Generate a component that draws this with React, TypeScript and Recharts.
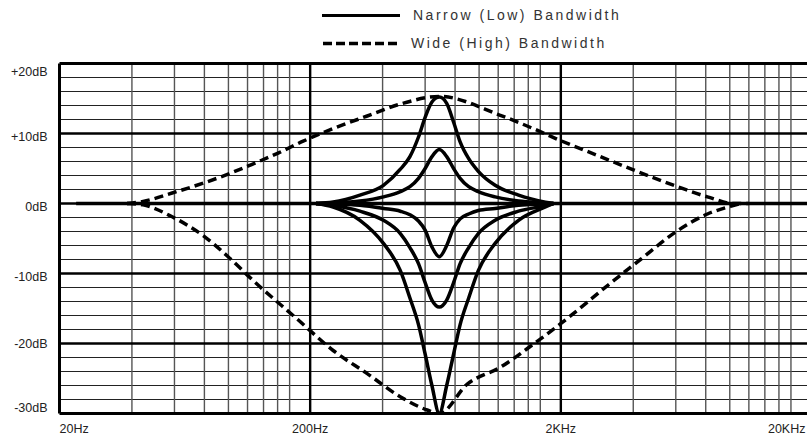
import React from 'react';
import { LineChart, Line, XAxis, YAxis, ReferenceLine } from 'recharts';

// ---- axis / grid values ----
const decadeFreqs = [20, 200, 2000, 20000];
const decadeLabels = ['20Hz', '200Hz', '2KHz', '20KHz'];
const minorFreqs = [
  38.9, 57.5, 75.7, 94.4, 112.5, 130.3, 148.3, 165.6,
  389, 575, 757, 944, 1125, 1303, 1483, 1656,
  3890, 5750, 7570, 9440, 11250, 13030, 14830, 16560,
];
const majorDb = [20, 10, 0, -10, -20, -30];
const dbLabels = ['+20dB', '+10dB', '0dB', '-10dB', '-20dB', '-30dB'];
const minorDb = [18, 16, 14, 12, 8, 6, 4, 2, -2, -4, -6, -8, -12, -14, -16, -18, -22, -24, -26, -28];

// ---- series ----
const flatFreqs = [23.3, 20000];
const flatDb = [0, 0];

const narrowFreqs = [211, 247, 316, 392, 458, 500, 541, 575, 612, 655, 701, 747, 793, 858, 937, 1094, 1356, 1736, 1870];
const narrowBoost15 = [0, 0.2, 1.2, 2.6, 4.9, 6.7, 9.5, 12.3, 14.5, 15.2, 14.3, 11.6, 8.8, 6.4, 4.6, 2.6, 1.2, 0.2, 0];
const narrowBoost8 = [0, 0.08, 0.35, 0.94, 1.7, 2.4, 3.6, 5.0, 6.7, 7.7, 6.7, 5.0, 3.6, 2.4, 1.7, 0.94, 0.35, 0.08, 0];
const narrowCut8 = [0, -0.05, -0.25, -0.7, -1.1, -1.6, -2.5, -3.8, -6.2, -7.6, -6.0, -3.5, -2.2, -1.5, -1.0, -0.7, -0.25, -0.05, 0];
const narrowCut15 = [0, -0.3, -1.1, -2.4, -4.3, -6.3, -8.6, -11.3, -13.8, -14.8, -13.8, -11.3, -8.6, -6.3, -4.3, -2.4, -1.1, -0.3, 0];
const narrowCut30 = [0, -0.5, -2.4, -5.7, -9.6, -13.5, -17.3, -21.5, -26, -30, -26, -21.5, -17.3, -13.5, -9.6, -5.7, -2.4, -0.5, 0];

const wideBoostFreqs = [37.2, 43.1, 56.3, 76.2, 94.1, 117.4, 149, 187.5, 247, 337.8, 457.4, 655, 1147, 1553, 1991, 2876, 3896, 5838, 7688, 9764, 11210];
const wideBoost15 = [0, 0.3, 1.5, 3.0, 4.2, 5.6, 7.2, 8.9, 10.7, 12.5, 14.2, 15.3, 12.6, 10.7, 9.0, 6.7, 4.8, 2.4, 0.95, 0, 0];

const wideCutFreqs = [37.2, 43.1, 56.3, 76.2, 94.1, 118.4, 177.5, 247, 337.8, 457.4, 586, 655, 847, 1147, 1553, 1991, 3152, 4155, 5838, 7688, 9500, 10400];
const wideCut30 = [0, -0.2, -1.9, -4.8, -7.6, -11, -16.5, -21, -24.3, -27.6, -29.5, -30, -25.8, -23.4, -20.1, -17.2, -11.4, -8.0, -3.9, -1.5, -0.4, 0];

const toRows = (fs: number[], vs: number[]) => fs.map((f, i) => ({ f, v: vs[i] }));

const narrowSeries = [narrowBoost15, narrowBoost8, narrowCut8, narrowCut15, narrowCut30];

const XTick = (props: any) => {
  const { x, y, payload, index } = props;
  const last = decadeFreqs.length - 1;
  const anchor = index === 0 ? 'start' : index === last ? 'end' : 'middle';
  const dx = index === last ? -6 : 0;
  const i = decadeFreqs.indexOf(payload.value);
  return (
    <text x={x} y={y} dx={dx} dy={19.5} textAnchor={anchor} fontSize={12.5} fill="#222" fontFamily="Liberation Sans, Arial, sans-serif">
      {decadeLabels[i]}
    </text>
  );
};

const YTick = (props: any) => {
  const { x, y, payload } = props;
  const i = majorDb.indexOf(payload.value);
  let dy = 7;
  if (payload.value === 20) dy = 12;
  if (payload.value === -30) dy = -1.5;
  if (payload.value === -20) dy = 4;
  return (
    <text x={x} y={y} dy={dy} textAnchor="end" fontSize={12.5} fill="#222" fontFamily="Liberation Sans, Arial, sans-serif">
      {dbLabels[i]}
    </text>
  );
};

const legendText: React.CSSProperties = {
  position: 'absolute',
  fontFamily: 'Liberation Sans, Arial, sans-serif',
  fontSize: 14,
  letterSpacing: 2.5,
  color: '#333',
  lineHeight: '16px',
  whiteSpace: 'nowrap',
};

export default function App() {
  return (
    <div style={{ position: 'fixed', left: 0, top: 0, width: 807, height: 435, overflow: 'hidden', background: '#fff' }}>
      <svg width={807} height={60} style={{ position: 'absolute', left: 0, top: 0 }}>
        <line x1={322} x2={400} y1={15.5} y2={15.5} stroke="#000" strokeWidth={3} />
        <line x1={323} x2={400} y1={43.5} y2={43.5} stroke="#000" strokeWidth={3.5} strokeDasharray="9 4" />
      </svg>
      <div style={{ ...legendText, left: 413, top: 7 }}>Narrow (Low) Bandwidth</div>
      <div style={{ ...legendText, left: 411, top: 35 }}>Wide (High) Bandwidth</div>
      <div style={{ position: 'absolute', left: 0, top: 0 }}>
        <LineChart width={830} height={435} margin={{ top: 63.5, right: 18.5, bottom: 0, left: 0 }}>
          <XAxis
            dataKey="f"
            type="number"
            scale="log"
            domain={[20, 20000]}
            ticks={decadeFreqs}
            allowDataOverflow
            axisLine={false}
            tickLine={false}
            tickSize={0}
            tickMargin={0}
            height={21.5}
            interval={0}
            tick={<XTick />}
          />
          <YAxis
            type="number"
            domain={[-30, 20]}
            ticks={majorDb}
            allowDataOverflow
            axisLine={false}
            tickLine={false}
            tickSize={0}
            tickMargin={12}
            width={59.5}
            interval={0}
            tick={<YTick />}
          />
          {minorDb.map((d) => (
            <ReferenceLine key={'hm' + d} y={d} stroke="#222" strokeWidth={1.2} ifOverflow="visible" />
          ))}
          {minorFreqs.map((f) => (
            <ReferenceLine key={'vm' + f} x={f} stroke="#555" strokeWidth={1.4} ifOverflow="visible" />
          ))}
          {majorDb.map((d) => (
            <ReferenceLine key={'hM' + d} y={d} stroke="#000" strokeWidth={d === 20 || d === -30 ? 3 : 2.4} ifOverflow="visible" />
          ))}
          {decadeFreqs.map((f) => (
            <ReferenceLine key={'vM' + f} x={f} stroke="#000" strokeWidth={f === 20 ? 3 : 2.4} ifOverflow="visible" />
          ))}
          <Line data={toRows(flatFreqs, flatDb)} dataKey="v" stroke="#000" strokeWidth={3.5} dot={false} isAnimationActive={false} type="linear" />
          {narrowSeries.map((s, i) => (
            <Line key={'n' + i} data={toRows(narrowFreqs, s)} dataKey="v" stroke="#000" strokeWidth={3.5} dot={false} isAnimationActive={false} type="monotone" />
          ))}
          <Line data={toRows(wideBoostFreqs, wideBoost15)} dataKey="v" stroke="#000" strokeWidth={3.5} strokeDasharray="9 5" dot={false} isAnimationActive={false} type="monotone" />
          <Line data={toRows(wideCutFreqs, wideCut30)} dataKey="v" stroke="#000" strokeWidth={3.5} strokeDasharray="9 5" dot={false} isAnimationActive={false} type="monotone" />
        </LineChart>
      </div>
    </div>
  );
}
